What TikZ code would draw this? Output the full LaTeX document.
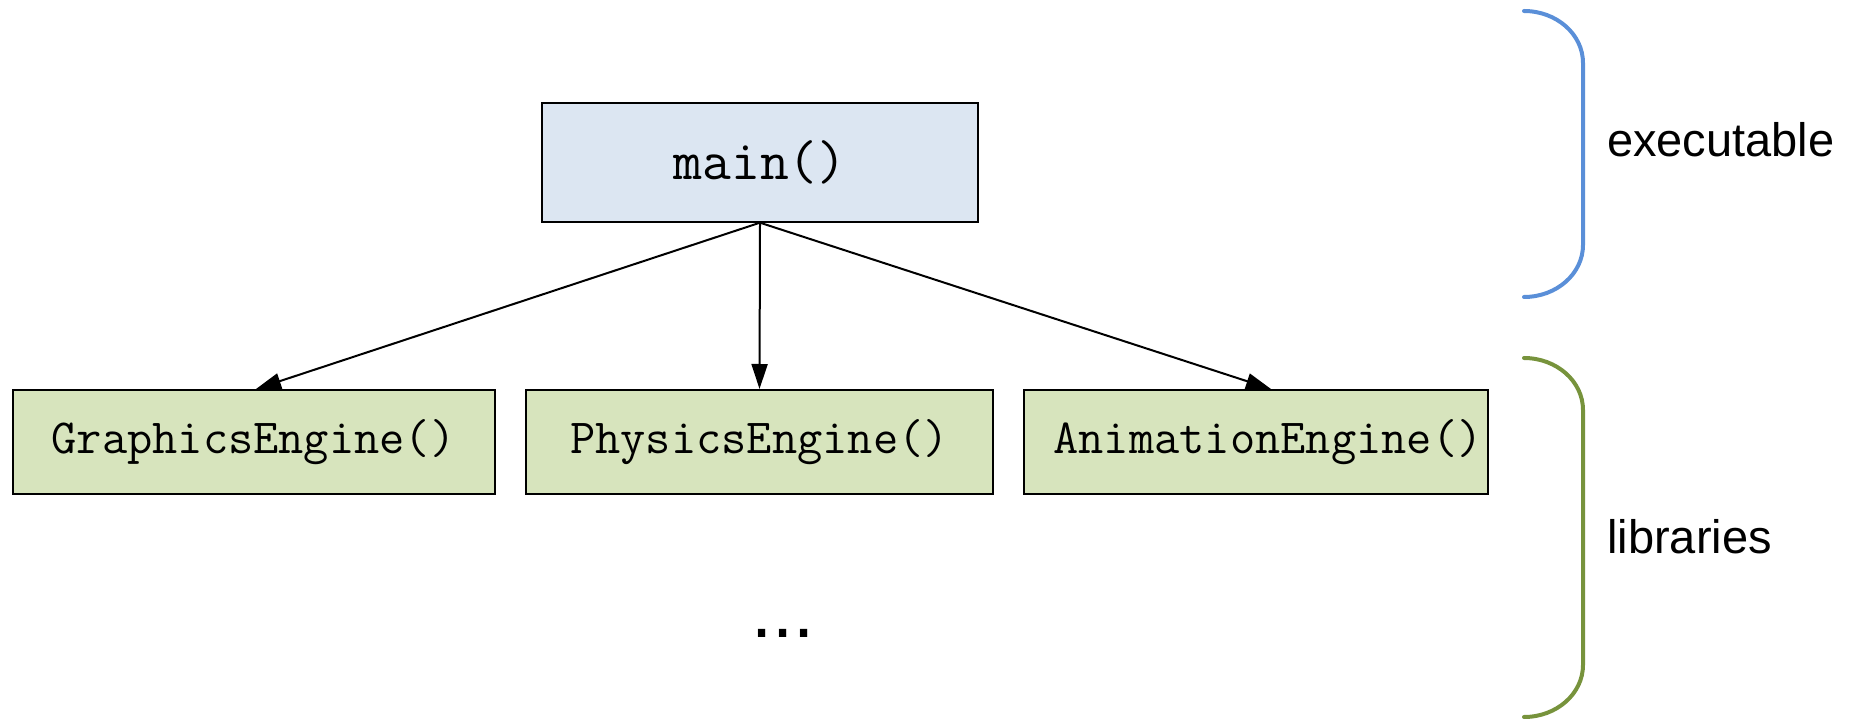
\documentclass[tikz,border=0pt]{standalone}
\usepackage{fontspec}
\setmainfont{Liberation Sans}
\usetikzlibrary{arrows.meta}
\definecolor{mainfill}{HTML}{DCE6F2}
\definecolor{libfill}{HTML}{D7E4BD}
\definecolor{bracebl}{HTML}{5A8FD8}
\definecolor{bracegr}{HTML}{77933C}
\tikzset{
  fnbox/.style={draw=black, line width=2pt, inner sep=0pt},
  mainbox/.style={fnbox, fill=mainfill, minimum width=436.6pt, minimum height=119pt,
    font=\ttfamily\fontsize{56}{64}\selectfont},
  libbox/.style={fnbox, fill=libfill, minimum height=104pt,
    font=\ttfamily\fontsize{49}{58}\selectfont},
  call/.style={line width=2pt, -{Triangle[length=25pt,width=16pt]}},
  brace/.style={line width=4pt, line cap=round},
  sidelabel/.style={anchor=base west, inner sep=0pt, font=\fontsize{47}{56}\selectfont}
}
\begin{document}
\begin{tikzpicture}[x=1pt,y=1pt]
\useasboundingbox (0,0) rectangle (1852,721);
\node[mainbox] (m) at (760,558.8) {main()};
\node[libbox, minimum width=482pt] (g) at (253.5,279) {GraphicsEngine()};
\node[libbox, minimum width=467pt] (p) at (759.5,279) {PhysicsEngine()};
\node[libbox, minimum width=464.6pt] (a) at (1256,279) {\hspace*{24pt}AnimationEngine()};
\draw[call] (m.south) -- ([xshift=2.5pt]g.north);
\draw[call] (m.south) -- (p.north);
\draw[call] (m.south) -- ([xshift=15pt]a.north);
\node[anchor=base west, inner sep=0pt, font=\fontsize{76}{90}\selectfont] (dots) at (751,84) {...};
% braces
\draw[brace, bracebl] (1524,710) arc[start angle=90, end angle=0, x radius=59, y radius=52]
  -- (1583,476) arc[start angle=0, end angle=-90, x radius=59, y radius=52];
\draw[brace, bracegr] (1524,363) arc[start angle=90, end angle=0, x radius=59, y radius=52]
  -- (1583,56) arc[start angle=0, end angle=-90, x radius=59, y radius=52];
\node[sidelabel] (exe) at (1607,564) {executable};
\node[sidelabel] (lib) at (1607,168) {libraries};
\end{tikzpicture}
\end{document}
